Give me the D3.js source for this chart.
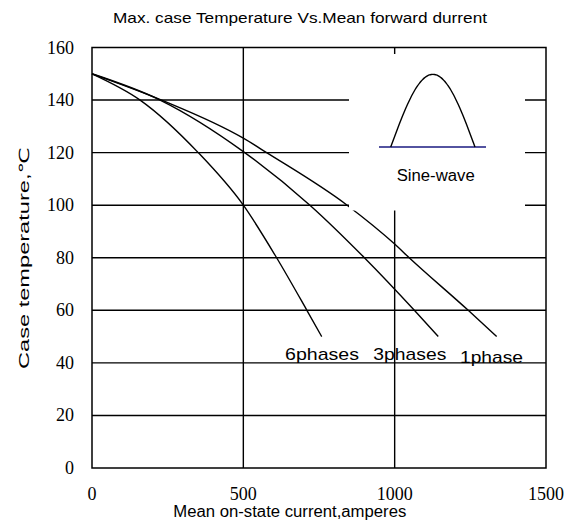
<!DOCTYPE html>
<html><head><meta charset="utf-8">
<script src="https://cdn.jsdelivr.net/npm/d3@7"></script>
<style>
body{margin:0;background:#fff}
.serif{font-family:'Liberation Serif','DejaVu Serif',serif}
.sans{font-family:'Liberation Sans',Arial,'DejaVu Sans',sans-serif}
</style>
</head><body>
<svg id="c" width="575" height="530"></svg>
<script>
const xTicks = [0, 500, 1000, 1500];
const yTicks = [0, 20, 40, 60, 80, 100, 120, 140, 160];
const phase1 = [[0,150],[230,140],[500,125.5],[577,120],[843,100],[1000,85.2],[1048,80],[1243,60],[1337,50]];
const phase3 = [[0,150],[225,140],[500,120.4],[720,100],[900,80],[1065,60],[1144,50]];
const phase6 = [[0,150],[159,140],[351,120],[500,100],[610,80],[710,60],[759,50]];
const seriesLabels = ["6phases", "3phases", "1phase"];

const svg = d3.select("#c");
const x = d3.scaleLinear([0,1500],[92,546]);
const y = d3.scaleLinear([0,160],[468,47.5]);

// grid
svg.append("g").selectAll("line").data(yTicks.filter(v=>v>0&&v<160)).join("line")
  .attr("x1",x(0)).attr("x2",x(1500)).attr("y1",d=>y(d)).attr("y2",d=>y(d))
  .attr("stroke","#000").attr("stroke-width",1.4);
svg.append("g").selectAll("line").data(xTicks.filter(v=>v>0&&v<1500)).join("line")
  .attr("y1",y(0)).attr("y2",y(160)).attr("x1",d=>x(d)).attr("x2",d=>x(d))
  .attr("stroke","#000").attr("stroke-width",1.4);

// curves
const line = d3.line().x(d=>x(d[0])).y(d=>y(d[1])).curve(d3.curveMonotoneX);
[phase1, phase3, phase6].forEach(s=>{
  svg.append("path").attr("d",line(s)).attr("fill","none").attr("stroke","#000").attr("stroke-width",1.4);
});

// inset mask
svg.append("rect").attr("x",349).attr("y",54).attr("width",176).attr("height",156.5).attr("fill","#fff");

// frame
svg.append("rect").attr("x",x(0)).attr("y",y(160)).attr("width",x(1500)-x(0)).attr("height",y(0)-y(160))
  .attr("fill","none").attr("stroke","#000").attr("stroke-width",1.5);

// sine inset icon
svg.append("line").attr("x1",379).attr("x2",486).attr("y1",147).attr("y2",147)
  .attr("stroke","#1a1a80").attr("stroke-width",1.6);
const sinePts = d3.range(0,1.0001,0.02).map(t=>[390.7 + t*(475-390.7), 147 - Math.sin(Math.PI*t)*(147-74.3)]);
svg.append("path").attr("d",d3.line().curve(d3.curveBasis)(sinePts)).attr("fill","none").attr("stroke","#000").attr("stroke-width",1.4);
svg.append("text").attr("class","sans").attr("x",396.7).attr("y",180.5).attr("font-size",16)
  .attr("textLength",78).attr("lengthAdjust","spacingAndGlyphs").text("Sine-wave");

// tick labels
svg.append("g").selectAll("text").data(yTicks).join("text").attr("class","serif")
  .attr("x",74).attr("y",d=>y(d)+6).attr("text-anchor","end")
  .attr("font-size",18).text(d=>d);
svg.append("g").selectAll("text").data(xTicks).join("text").attr("class","serif")
  .attr("x",d=>x(d)).attr("y",500).attr("text-anchor","middle")
  .attr("font-size",18).text(d=>d);

// series labels
const labelPos = [[285,360,74],[373.3,360,73],[460,363.3,63]];
seriesLabels.forEach((t,i)=>{
  svg.append("text").attr("class","sans").attr("x",labelPos[i][0]).attr("y",labelPos[i][1])
    .attr("font-size",17)
    .attr("textLength",labelPos[i][2]).attr("lengthAdjust","spacingAndGlyphs").text(t);
});

// titles
svg.append("text").attr("class","sans").attr("x",113).attr("y",23).attr("font-size",15)
  .attr("textLength",374).attr("lengthAdjust","spacingAndGlyphs")
  .text("Max. case Temperature  Vs.Mean forward durrent");
svg.append("text").attr("class","sans").attr("x",173.3).attr("y",517).attr("font-size",16)
  .attr("textLength",233).attr("lengthAdjust","spacingAndGlyphs")
  .text("Mean on-state  current,amperes");
svg.append("text").attr("class","sans").attr("transform","translate(29,369) rotate(-90)")
  .attr("font-size",14)
  .attr("textLength",222).attr("lengthAdjust","spacingAndGlyphs")
  .text("Case temperature,℃");
</script>
</body></html>
